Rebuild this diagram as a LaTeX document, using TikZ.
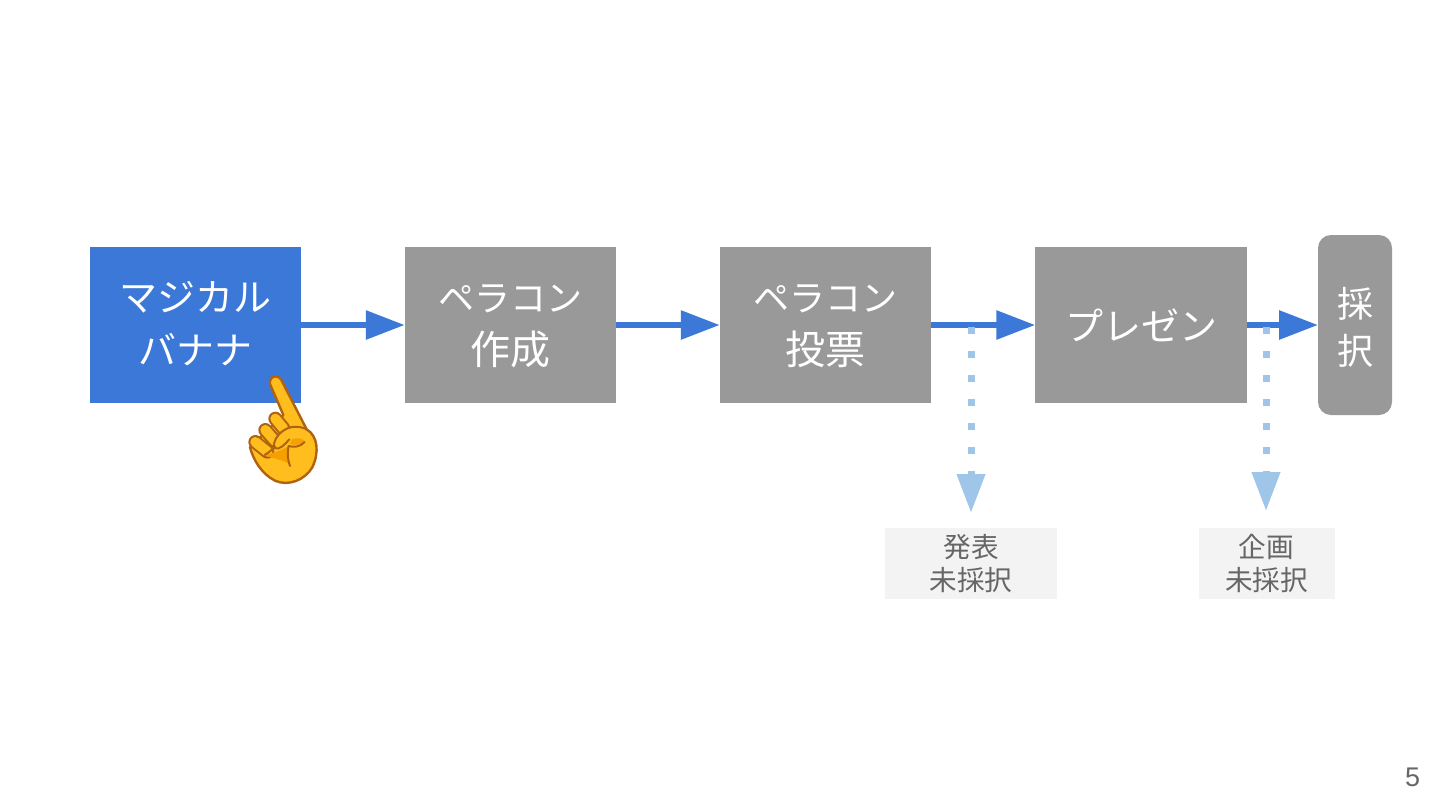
\documentclass[tikz,border=0pt]{standalone}
\usepackage{fontspec}
\setmainfont{Liberation Sans}
\newfontfamily\cjk{Noto Sans CJK JP}
\usetikzlibrary{arrows.meta}
\definecolor{boxgrey}{HTML}{999999}
\definecolor{boxblue}{HTML}{3C78D8}
\definecolor{lightblue}{HTML}{9FC5E8}
\definecolor{notegrey}{HTML}{F3F3F3}
\definecolor{notetext}{HTML}{666666}
\definecolor{handfill}{HTML}{FFBE1E}
\definecolor{handshade}{HTML}{F5A000}
\definecolor{handline}{HTML}{B0620F}
\newcommand{\lineA}[1]{{\fontsize{19}{26.5}\selectfont #1}}
\newcommand{\lineB}[1]{{\fontsize{18}{26.5}\selectfont #1}}
\newcommand{\lineC}[1]{{\fontsize{20}{26.5}\selectfont #1}}
\tikzset{
  stepbox/.style={fill=boxgrey,text=white,outer sep=0pt,minimum width=105.75pt,minimum height=78pt,inner sep=0pt,align=center,font=\cjk\fontsize{18}{26.5}\selectfont},
  twolines/.style={text height=40pt,text depth=0.3pt},
  flow/.style={draw=boxblue,line width=3pt,-{Triangle[length=19.5pt,width=14pt]}},
  reject/.style={draw=lightblue,line width=3.5pt,dash pattern=on 3.5pt off 8.5pt,-{Triangle[length=19.5pt,width=13.5pt]}},
  note/.style={fill=notegrey,text=notetext,outer sep=0pt,inner sep=0pt,align=center,font=\cjk\fontsize{13.8}{16.5}\selectfont},
  handedge/.style={draw=handline,line width=1.2pt,line join=round,line cap=round},
  handcrease/.style={draw=handline,line width=1pt,line join=round,line cap=round},
  fingerout/.style={draw=handline,line width=7pt,line cap=round},
  fingerin/.style={draw=handfill,line width=5pt,line cap=round},
}
\begin{document}
\begin{tikzpicture}[x=0.5pt,y=-0.5pt]
\useasboundingbox[fill=white] (0,0) rectangle (1440,810);
\node[stepbox,twolines,fill=boxblue] (a) at (195.5,325) {\lineA{マジカル}\\\lineA{バナナ}};
\node[stepbox,twolines] (b) at (510.5,325) {\lineB{ペラコン}\\\lineC{作成}};
\node[stepbox,twolines] (c) at (825.5,325) {\lineB{ペラコン}\\\lineC{投票}};
\node[stepbox] (d) at (1141,325) {\lineA{プレゼン}};
\node[stepbox,minimum width=37pt,minimum height=90pt,rounded corners=6.5pt,text height=40pt,text depth=1pt,font=\cjk\fontsize{18}{23.5}\selectfont] (e) at (1355,325) {採\\択};
\node[note,minimum width=86pt,minimum height=35.5pt] (n1) at (971,563.5) {発表\\未採択};
\node[note,minimum width=68pt,minimum height=35.5pt] (n2) at (1266.5,563.5) {企画\\未採択};
\draw[flow] (a) -- (b);
\draw[flow] (b) -- (c);
\draw[flow] (c) -- (d);
\draw[flow] (d) -- (e);
\coordinate (s1) at (971,326.5);
\coordinate (t1) at (971,513);
\coordinate (s2) at (1266,326.5);
\coordinate (t2) at (1266,511);
\draw[reject] (s1) -- (t1);
\draw[reject] (s2) -- (t2);
\node[text=notetext,font=\fontsize{13.5}{16}\selectfont,inner sep=0pt] (p) at (1412.5,777) {5};
% pointing hand
\begin{scope}[shift={(230,360)},x=0.5pt/3,y=-0.5pt/3]
  \draw[handedge,fill=handfill]
    (120,72) .. controls (116,45) and (150,40) .. (158,68)
    -- (230,208)
    .. controls (264,228) and (268,278) .. (247,322)
    .. controls (225,360) and (175,380) .. (135,362)
    .. controls (95,342) and (70,300) .. (60,262)
    -- (160,165) -- cycle;
  \draw[fingerout] (136,176) -- (160,205);
  \draw[fingerin] (136,176) -- (160,205);
  \draw[fingerout] (106,210) -- (135,243);
  \draw[fingerin] (106,210) -- (135,243);
  \draw[fingerout] (76,246) -- (112,275);
  \draw[fingerin] (76,246) -- (112,275);
  \fill[handfill] (140,232) -- (170,203) -- (225,213) -- (200,300) -- (135,300) -- cycle;
  \fill[handshade] (104,285) .. controls (125,280) and (155,272) .. (176,258) .. controls (172,280) and (174,298) .. (178,312) .. controls (155,298) and (125,295) .. (104,285) -- cycle;
  \fill[handshade] (186,238) .. controls (200,232) and (218,234) .. (224,244) .. controls (210,256) and (195,256) .. (180,252) -- cycle;
  \draw[handcrease] (230,208) .. controls (205,196) and (180,198) .. (160,212) .. controls (140,225) and (130,245) .. (131,264) .. controls (150,272) and (165,252) .. (178,238);
  \draw[handcrease] (131,264) .. controls (122,272) and (114,280) .. (104,285);
  \draw[handcrease] (224,246) .. controls (210,262) and (190,262) .. (176,258) .. controls (170,280) and (174,300) .. (180,318);
\end{scope}
\end{tikzpicture}
\end{document}
